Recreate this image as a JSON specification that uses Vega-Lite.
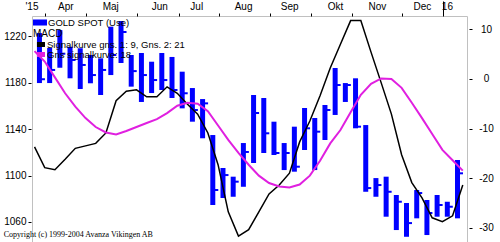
{
  "$schema": "https://vega.github.io/schema/vega-lite/v6.json",
  "width": 435,
  "height": 226,
  "autosize": "none",
  "padding": {"left": 32, "top": 16, "right": 33, "bottom": 0},
  "background": "white",
  "title": {"text": "Copyright (c) 1999-2004 Avanza Vikingen AB", "orient": "bottom", "anchor": "start", "offset": -11, "font": "Liberation Serif", "fontSize": 8, "fontWeight": "normal", "color": "#000000"},
  "config": {
    "font": "Liberation Sans",
    "view": {"stroke": "#c0c0c0", "strokeWidth": 1},
    "axis": {"labelFont": "Liberation Sans", "labelFontSize": 10, "labelColor": "#000000", "tickColor": "#000000", "domain": false, "grid": false, "labelOverlap": false, "labelFlush": false, "labelBound": false},
    "legend": {"labelFont": "Liberation Sans", "labelColor": "#000000", "titleFont": "Liberation Sans", "titleColor": "#000000"}
  },
  "datasets": {
    "price": [
      {"date": "2015-03-28", "high": 1222.8, "low": 1179.7, "close": 1183.0},
      {"date": "2015-04-04", "high": 1209.9, "low": 1179.7, "close": 1191.0},
      {"date": "2015-04-11", "high": 1225.4, "low": 1192.9, "close": 1205.0},
      {"date": "2015-04-18", "high": 1211.0, "low": 1183.8, "close": 1199.6},
      {"date": "2015-04-25", "high": 1209.7, "low": 1174.6, "close": 1195.3},
      {"date": "2015-05-02", "high": 1203.9, "low": 1179.5, "close": 1186.6},
      {"date": "2015-05-09", "high": 1201.0, "low": 1169.4, "close": 1191.0},
      {"date": "2015-05-16", "high": 1228.3, "low": 1186.6, "close": 1203.9},
      {"date": "2015-05-23", "high": 1233.2, "low": 1197.0, "close": 1223.7},
      {"date": "2015-05-30", "high": 1203.9, "low": 1176.6, "close": 1190.0},
      {"date": "2015-06-06", "high": 1205.6, "low": 1163.4, "close": 1186.6},
      {"date": "2015-06-13", "high": 1198.1, "low": 1171.1, "close": 1182.3},
      {"date": "2015-06-20", "high": 1205.6, "low": 1173.7, "close": 1182.3},
      {"date": "2015-06-27", "high": 1202.2, "low": 1166.8, "close": 1173.7},
      {"date": "2015-07-04", "high": 1189.5, "low": 1157.9, "close": 1170.9},
      {"date": "2015-07-11", "high": 1175.4, "low": 1146.4, "close": 1156.5},
      {"date": "2015-07-18", "high": 1165.9, "low": 1132.1, "close": 1162.2},
      {"date": "2015-07-25", "high": 1134.9, "low": 1074.6, "close": 1087.5},
      {"date": "2015-08-01", "high": 1106.5, "low": 1080.6, "close": 1100.4},
      {"date": "2015-08-08", "high": 1099.0, "low": 1081.7, "close": 1094.7},
      {"date": "2015-08-15", "high": 1128.0, "low": 1090.3, "close": 1120.3},
      {"date": "2015-08-22", "high": 1169.4, "low": 1110.8, "close": 1153.9},
      {"date": "2015-08-29", "high": 1166.8, "low": 1119.4, "close": 1136.4},
      {"date": "2015-09-05", "high": 1146.4, "low": 1117.7, "close": 1119.4},
      {"date": "2015-09-12", "high": 1128.0, "low": 1104.7, "close": 1119.4},
      {"date": "2015-09-19", "high": 1142.1, "low": 1103.3, "close": 1107.6},
      {"date": "2015-09-26", "high": 1158.2, "low": 1122.0, "close": 1140.7},
      {"date": "2015-10-03", "high": 1149.6, "low": 1104.7, "close": 1137.8},
      {"date": "2015-10-10", "high": 1160.8, "low": 1130.6, "close": 1156.5},
      {"date": "2015-10-17", "high": 1192.7, "low": 1152.2, "close": 1178.0},
      {"date": "2015-10-24", "high": 1179.7, "low": 1163.4, "close": 1178.0},
      {"date": "2015-10-31", "high": 1183.8, "low": 1140.7, "close": 1142.1},
      {"date": "2015-11-07", "high": 1143.5, "low": 1086.0, "close": 1089.2},
      {"date": "2015-11-14", "high": 1097.8, "low": 1081.7, "close": 1091.8},
      {"date": "2015-11-21", "high": 1099.0, "low": 1064.5, "close": 1086.0},
      {"date": "2015-11-28", "high": 1083.2, "low": 1053.0, "close": 1077.4},
      {"date": "2015-12-05", "high": 1076.3, "low": 1047.2, "close": 1059.0},
      {"date": "2015-12-12", "high": 1087.5, "low": 1063.1, "close": 1084.9},
      {"date": "2015-12-19", "high": 1078.9, "low": 1048.7, "close": 1067.7},
      {"date": "2015-12-26", "high": 1083.2, "low": 1064.5, "close": 1074.6},
      {"date": "2016-01-02", "high": 1077.4, "low": 1064.5, "close": 1073.1},
      {"date": "2016-01-09", "high": 1113.4, "low": 1063.1, "close": 1101.9}
    ],
    "macd": [
      {"date": "2015-03-24T15:00:00Z", "macd": -13.7, "signal": 5.6},
      {"date": "2015-03-31T15:00:00Z", "macd": -17.9, "signal": 3.5},
      {"date": "2015-04-07T15:00:00Z", "macd": -18.3, "signal": 0.3},
      {"date": "2015-04-14T15:00:00Z", "macd": -16.2, "signal": -2.9},
      {"date": "2015-04-21T15:00:00Z", "macd": -14.0, "signal": -5.6},
      {"date": "2015-04-28T15:00:00Z", "macd": -13.5, "signal": -7.9},
      {"date": "2015-05-05T15:00:00Z", "macd": -13.0, "signal": -9.7},
      {"date": "2015-05-12T15:00:00Z", "macd": -10.9, "signal": -10.8},
      {"date": "2015-05-19T15:00:00Z", "macd": -4.4, "signal": -11.2},
      {"date": "2015-05-26T15:00:00Z", "macd": -2.5, "signal": -10.5},
      {"date": "2015-06-02T15:00:00Z", "macd": -2.2, "signal": -9.7},
      {"date": "2015-06-09T15:00:00Z", "macd": -3.6, "signal": -8.9},
      {"date": "2015-06-16T15:00:00Z", "macd": -3.6, "signal": -8.1},
      {"date": "2015-06-23T15:00:00Z", "macd": -1.6, "signal": -6.9},
      {"date": "2015-06-30T15:00:00Z", "macd": -2.9, "signal": -5.4},
      {"date": "2015-07-07T15:00:00Z", "macd": -5.1, "signal": -4.8},
      {"date": "2015-07-14T15:00:00Z", "macd": -7.1, "signal": -5.0},
      {"date": "2015-07-21T15:00:00Z", "macd": -10.9, "signal": -6.5},
      {"date": "2015-07-28T15:00:00Z", "macd": -17.3, "signal": -9.4},
      {"date": "2015-08-04T15:00:00Z", "macd": -26.8, "signal": -12.3},
      {"date": "2015-08-11T15:00:00Z", "macd": -31.7, "signal": -14.9},
      {"date": "2015-08-18T15:00:00Z", "macd": -30.4, "signal": -17.3},
      {"date": "2015-08-25T15:00:00Z", "macd": -26.8, "signal": -19.5},
      {"date": "2015-09-01T15:00:00Z", "macd": -23.2, "signal": -21.0},
      {"date": "2015-09-08T15:00:00Z", "macd": -21.4, "signal": -21.7},
      {"date": "2015-09-15T15:00:00Z", "macd": -19.0, "signal": -21.9},
      {"date": "2015-09-22T15:00:00Z", "macd": -12.7, "signal": -21.3},
      {"date": "2015-09-29T15:00:00Z", "macd": -8.5, "signal": -19.5},
      {"date": "2015-10-06T15:00:00Z", "macd": -3.4, "signal": -16.5},
      {"date": "2015-10-13T15:00:00Z", "macd": 2.2, "signal": -13.0},
      {"date": "2015-10-20T15:00:00Z", "macd": 7.0, "signal": -10.3},
      {"date": "2015-10-27T15:00:00Z", "macd": 11.75, "signal": -6.7},
      {"date": "2015-11-03T15:00:00Z", "macd": 11.75, "signal": -3.2},
      {"date": "2015-11-10T15:00:00Z", "macd": 5.4, "signal": -1.0},
      {"date": "2015-11-17T15:00:00Z", "macd": -0.8, "signal": 0.1},
      {"date": "2015-11-24T15:00:00Z", "macd": -7.1, "signal": 0.0},
      {"date": "2015-12-01T15:00:00Z", "macd": -15.3, "signal": -1.8},
      {"date": "2015-12-08T15:00:00Z", "macd": -20.9, "signal": -4.8},
      {"date": "2015-12-15T15:00:00Z", "macd": -24.0, "signal": -7.9},
      {"date": "2015-12-22T15:00:00Z", "macd": -28.0, "signal": -11.1},
      {"date": "2015-12-29T15:00:00Z", "macd": -28.8, "signal": -14.3},
      {"date": "2016-01-05T15:00:00Z", "macd": -27.6, "signal": -16.4},
      {"date": "2016-01-12T15:00:00Z", "macd": -21.4, "signal": -18.5}
    ]
  },
  "layer": [
    {
      "data": {"name": "price"},
      "encoding": {
        "x": {
          "field": "date", "type": "temporal",
          "scale": {"type": "utc", "nice": false, "domain": [{"year": 2015, "month": 3, "date": 26, "hours": 7, "minutes": 40, "utc": true}, {"year": 2016, "month": 1, "date": 12, "hours": 2, "utc": true}]},
          "axis": {
            "orient": "top", "title": null, "labels": false, "domain": false, "grid": false, "tickWidth": 1,
            "values": [
              {"year": 2015, "month": 3, "date": 31, "hours": 16, "utc": true},
              {"year": 2015, "month": 4, "date": 28, "hours": 21, "utc": true},
              {"year": 2015, "month": 6, "date": 2, "hours": 17, "utc": true},
              {"year": 2015, "month": 7, "date": 1, "hours": 14, "utc": true},
              {"year": 2015, "month": 7, "date": 29, "hours": 2, "utc": true},
              {"year": 2015, "month": 9, "date": 1, "hours": 23, "utc": true},
              {"year": 2015, "month": 9, "date": 30, "hours": 2, "utc": true},
              {"year": 2015, "month": 10, "date": 28, "hours": 7, "utc": true},
              {"year": 2015, "month": 12, "date": 2, "hours": 5, "utc": true},
              {"year": 2015, "month": 12, "date": 29, "hours": 17, "utc": true}
            ],
            "tickSize": {"condition": {"test": "datum.value > 1451000000000", "value": 15}, "value": 3}
          }
        }
      },
      "layer": [
        {
          "mark": {"type": "bar", "width": 5},
          "encoding": {
            "y": {"field": "low", "type": "quantitative", "scale": {"domain": [1042.7, 1237.5], "nice": false, "zero": false},
              "axis": {"orient": "left", "title": null, "values": [1060, 1080, 1100, 1120, 1140, 1160, 1180, 1200, 1220], "format": "d", "tickSize": 3, "offset": 1, "labelPadding": 2, "domain": false, "grid": false}},
            "y2": {"field": "high"},
            "color": {"datum": "GOLD SPOT (Use)", "type": "nominal",
              "scale": {"domain": ["GOLD SPOT (Use)"], "range": ["#0000ff"]},
              "legend": {"orient": "none", "legendX": 1, "legendY": -0.5, "title": null, "padding": 0, "symbolType": "M-1,-0.43L1,-0.43L1,0.43L-1,0.43Z", "symbolSize": 196, "symbolStrokeWidth": 0, "labelOffset": 1, "labelFontSize": 9.5}}
          }
        },
        {
          "mark": {"type": "tick", "orient": "horizontal", "size": 6, "thickness": 2, "xOffset": 2.5, "opacity": 1},
          "encoding": {
            "y": {"field": "close", "type": "quantitative"},
            "color": {"datum": "GOLD SPOT (Use)", "type": "nominal"}
          }
        }
      ]
    },
    {
      "data": {"name": "macd"},
      "encoding": {
        "x": {
          "field": "date", "type": "temporal",
          "scale": {"type": "utc", "nice": false, "domain": [{"year": 2015, "month": 3, "date": 26, "hours": 7, "minutes": 40, "utc": true}, {"year": 2016, "month": 1, "date": 12, "hours": 2, "utc": true}]},
          "axis": {
            "orient": "top", "title": null, "ticks": false, "tickSize": 0, "domain": false, "grid": false, "labelPadding": 5,
            "values": [
              {"year": 2015, "month": 3, "date": 27, "utc": true},
              {"year": 2015, "month": 4, "date": 14, "hours": 18, "utc": true},
              {"year": 2015, "month": 5, "date": 15, "hours": 14, "utc": true},
              {"year": 2015, "month": 6, "date": 18, "hours": 5, "utc": true},
              {"year": 2015, "month": 7, "date": 13, "hours": 15, "utc": true},
              {"year": 2015, "month": 8, "date": 14, "hours": 19, "utc": true},
              {"year": 2015, "month": 9, "date": 15, "hours": 10, "utc": true},
              {"year": 2015, "month": 10, "date": 16, "hours": 22, "utc": true},
              {"year": 2015, "month": 11, "date": 14, "hours": 17, "utc": true},
              {"year": 2015, "month": 12, "date": 15, "hours": 14, "utc": true},
              {"year": 2016, "month": 1, "date": 1, "hours": 17, "utc": true}
            ],
            "labelExpr": "['16', 'Feb', \"'15\", 'Apr', 'Maj', 'Jun', 'Jul', 'Aug', 'Sep', 'Okt', 'Nov', 'Dec'][utcmonth(datum.value)]",
            "labelAlign": {"condition": {"test": "datum.value < 1427500000000", "value": "right"}, "value": "center"}
          }
        }
      },
      "layer": [
        {
          "mark": {"type": "line", "strokeWidth": 1.5, "clip": true},
          "encoding": {
            "y": {"field": "macd", "type": "quantitative", "scale": {"domain": [-32.88, 12.68], "nice": false, "zero": false},
              "axis": {"orient": "right", "title": null, "values": [-30, -25, -20, -15, -10, -5, 0, 5, 10], "labelExpr": "'' + datum.value", "tickSize": 3, "offset": 2, "labelPadding": 14, "labelAlign": "center", "domain": false, "grid": false}},
            "stroke": {"datum": "Signalkurve gns. 1: 9, Gns. 2: 21", "type": "nominal",
              "scale": {"domain": ["Signalkurve gns. 1: 9, Gns. 2: 21", "Gns signalkurve: 18"], "range": ["#000000", "#e020e0"]},
              "legend": {"orient": "none", "legendX": 1, "legendY": 12.5, "title": "MACD", "titleFontSize": 10, "titleFontWeight": "normal", "titlePadding": 0.5, "padding": 0, "rowPadding": 0,
                "symbolType": "M-0.28,-0.45L1.18,-0.45L1.18,0.45L-0.28,0.45Z", "symbolSize": 121, "symbolStrokeWidth": 0, "labelOffset": 3, "labelFontSize": 9.5,
                "encode": {"symbols": {"update": {"fill": {"scale": "stroke", "field": "value"}, "stroke": {"value": "transparent"}}}}}}
          }
        },
        {
          "mark": {"type": "line", "strokeWidth": 2, "clip": true},
          "encoding": {
            "y": {"field": "signal", "type": "quantitative"},
            "stroke": {"datum": "Gns signalkurve: 18", "type": "nominal"}
          }
        }
      ]
    }
  ],
  "resolve": {"scale": {"y": "independent"}, "axis": {"x": "independent", "y": "independent"}}
}
